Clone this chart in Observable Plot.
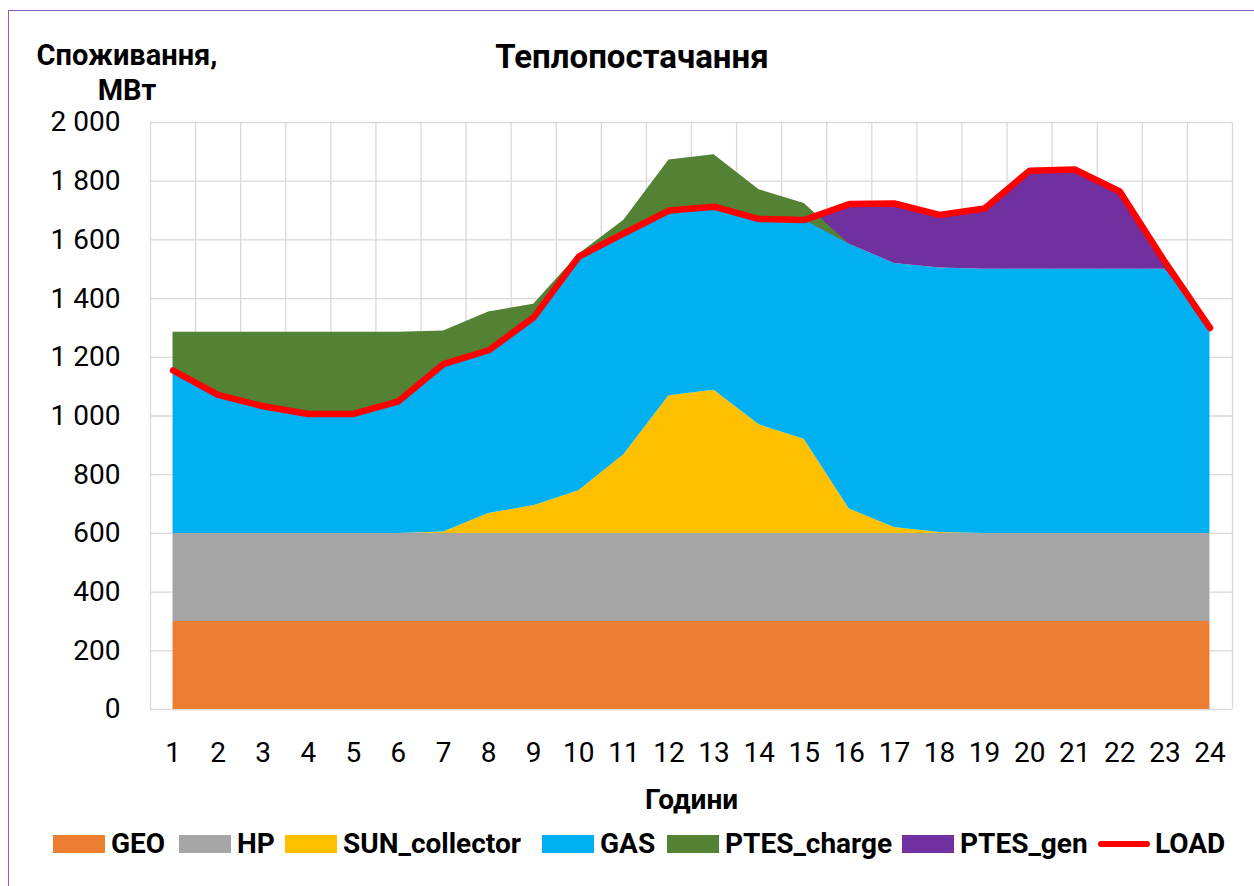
<!DOCTYPE html>
<html><head><meta charset="utf-8">
<script src="https://cdn.jsdelivr.net/npm/d3@7"></script>
<script src="https://cdn.jsdelivr.net/npm/@observablehq/plot@0.6"></script>
<style>
html,body{margin:0;padding:0;background:#fff;overflow:hidden;width:1254px;height:886px;position:relative;}
#frame{position:absolute;left:8px;top:10px;width:1400px;height:1000px;border:1.5px solid #8a5cc6;box-sizing:border-box;}
#chart{position:absolute;left:0;top:0;}
.t{position:absolute;font-family:Roboto,sans-serif;color:#000;white-space:nowrap;}
#title{left:332px;width:600px;top:40px;text-align:center;font-weight:bold;font-size:33px;line-height:33px;}
#ylab{left:27px;width:200px;top:38px;text-align:center;font-weight:bold;font-size:29px;line-height:35px;}
.li{position:absolute;top:830px;height:28px;display:flex;align-items:center;font-family:Roboto,sans-serif;font-weight:bold;font-size:28px;line-height:28px;color:#000;white-space:nowrap;}
.sw{width:52px;height:18px;margin-right:6px;flex:none;}
.ln{width:52px;height:6px;border-radius:3px;margin-right:5px;flex:none;}
</style></head><body>
<div id="frame"></div>
<div id="chart"></div>
<div id="title" class="t">Теплопостачання</div>
<div id="ylab" class="t">Споживання,<br>МВт</div>
<div id="legend"></div>
<script>
// ---- data ----
const hours = [1,2,3,4,5,6,7,8,9,10,11,12,13,14,15,16,17,18,19,20,21,22,23,24];
const GEO = [300,300,300,300,300,300,300,300,300,300,300,300,300,300,300,300,300,300,300,300,300,300,300,300];
const HP  = [300,300,300,300,300,300,300,300,300,300,300,300,300,300,300,300,300,300,300,300,300,300,300,300];
const SUN_collector = [0,0,0,0,0,0,5,68,94,145,268,469,488,370,321,83,20,3,0,0,0,0,0,0];
const GAS = [555,472,433,407,407,450,572,556,642,798,754,631,625,701,747,902,900,901,900,900,900,900,900,700];
const PTES_charge = [130,213,252,278,278,235,113,130,45,8,45,172,177,100,56,0,0,0,0,0,0,0,0,0];
const PTES_gen = [0,0,0,0,0,0,0,0,0,0,0,0,0,0,0,137,204,181,207,336,340,265,25,0];
const LOAD = [1155,1072,1033,1007,1007,1050,1177,1224,1336,1543,1622,1700,1713,1671,1668,1722,1724,1685,1707,1836,1840,1765,1525,1300];
const yTicks = [0,200,400,600,800,1000,1200,1400,1600,1800,2000];
const seriesNames = ["GEO","HP","SUN_collector","GAS","PTES_charge","PTES_gen","LOAD"];
const seriesColors = ["#ED7D31","#A5A5A5","#FFC000","#00B0F0","#548235","#7030A0","#FF0000"];

// ---- build stacked table ----
const rows = hours.map((h, i) => {
  const geo = GEO[i];
  const hp = geo + HP[i];
  const sun = hp + SUN_collector[i];
  const gas = sun + GAS[i];
  return {hour: h, base: 0, geo, hp, sun, gas,
          charge: gas + PTES_charge[i], gen: gas + PTES_gen[i], load: LOAD[i]};
});
const col = Object.fromEntries(seriesNames.map((n, i) => [n, seriesColors[i]]));
const bounds = hours.map(h => h - 0.5).concat([hours[hours.length - 1] + 0.5]);
const fmt = d3.formatLocale({decimal: ",", thousands: " ", grouping: [3], currency: ["", ""]}).format(",d");

const chart = Plot.plot({
  width: 1254, height: 820,
  marginLeft: 150, marginRight: 22, marginTop: 122, marginBottom: 111,
  style: {fontFamily: "Roboto, sans-serif", fontSize: "28px", color: "#000", background: "transparent", overflow: "visible"},
  x: {type: "linear", domain: [bounds[0], bounds[bounds.length - 1]]},
  y: {domain: [yTicks[0], yTicks[yTicks.length - 1]]},
  marks: [
    Plot.ruleY(yTicks, {stroke: "#d9d9d9", strokeWidth: 1.3}),
    Plot.ruleX(bounds, {stroke: "#d9d9d9", strokeWidth: 1.3}),
    Plot.areaY(rows, {x: "hour", y1: "base", y2: "geo", fill: col.GEO}),
    Plot.areaY(rows, {x: "hour", y1: "geo", y2: "hp", fill: col.HP}),
    Plot.areaY(rows, {x: "hour", y1: "hp", y2: "sun", fill: col.SUN_collector}),
    Plot.areaY(rows, {x: "hour", y1: "sun", y2: "gas", fill: col.GAS}),
    Plot.areaY(rows, {x: "hour", y1: "gas", y2: "gen", fill: col.PTES_gen}),
    Plot.areaY(rows, {x: "hour", y1: "gas", y2: "charge", fill: col.PTES_charge}),
    Plot.line(rows, {x: "hour", y: "load", stroke: col.LOAD, strokeWidth: 6.5, strokeLinejoin: "round", strokeLinecap: "round"}),
    Plot.axisX({ticks: hours, tickSize: 0, tickPadding: 33, tickFormat: d => String(d), label: null}),
    Plot.axisY({ticks: yTicks, tickSize: 0, tickPadding: 30, tickFormat: fmt, label: null}),
    Plot.text(["Години"], {frameAnchor: "bottom", dy: 91, fontWeight: "bold", fontSize: 28, lineAnchor: "middle"})
  ]
});
document.getElementById("chart").appendChild(chart);

// ---- legend ----
const legendX = [53, 179, 285, 542, 667, 902, 1098];
const legend = document.getElementById("legend");
seriesNames.forEach((n, i) => {
  const item = document.createElement("div");
  item.className = "li";
  item.style.left = legendX[i] + "px";
  const sw = document.createElement("span");
  sw.className = n === "LOAD" ? "ln" : "sw";
  sw.style.background = seriesColors[i];
  const tx = document.createElement("span");
  tx.textContent = n;
  item.appendChild(sw); item.appendChild(tx);
  legend.appendChild(item);
});
</script>
</body></html>
